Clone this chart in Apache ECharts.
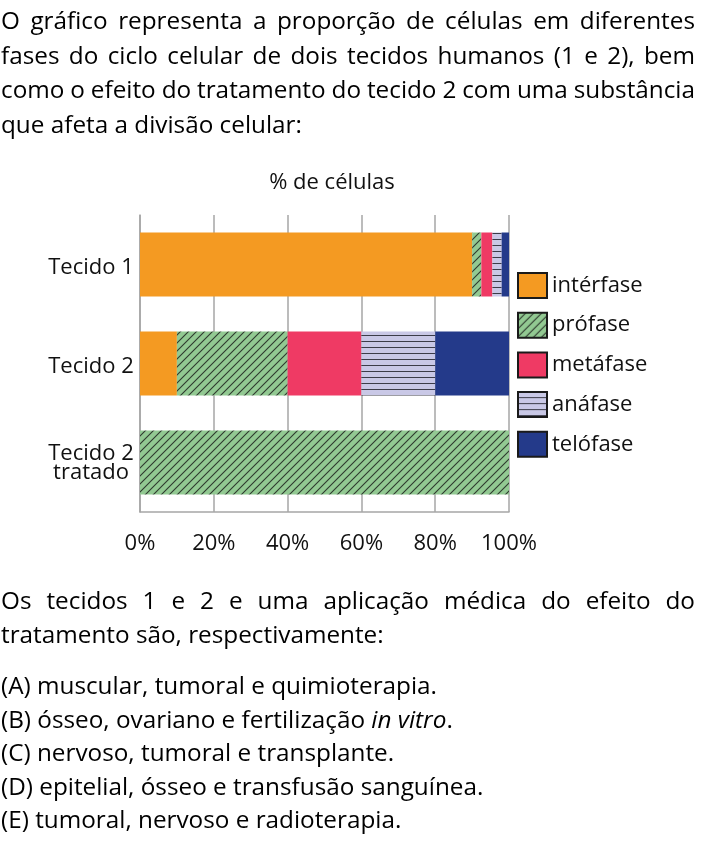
<!DOCTYPE html>
<html lang="pt">
<head>
<meta charset="UTF-8">
<title>ciclo celular</title>
<style>
  html, body { margin: 0; padding: 0; background: #fff; }
  body { width: 708px; height: 844px; position: relative; overflow: hidden;
         font-family: "Open Sans", Lato, sans-serif; color: #000; }
  #chart { position: absolute; left: 0; top: 0; width: 708px; height: 844px; }
  .txt { position: absolute; left: 1px; width: 694px; font-size: 24.3px; z-index: 2; }
  .j { text-align: justify; text-align-last: justify; word-spacing: -2px; }
  #p1 { top: 3px; line-height: 34.7px; }
  #p2 { top: 583px; line-height: 34px; }
  #opts { top: 668px; line-height: 33.5px; }
</style>
</head>
<body>
<div id="chart"></div>
<div class="txt" id="p1">
  <div class="j">O gráfico representa a proporção de células em diferentes</div>
  <div class="j">fases do ciclo celular de dois tecidos humanos (1 e 2), bem</div>
  <div class="j">como o efeito do tratamento do tecido 2 com uma substância</div>
  <div>que afeta a divisão celular:</div>
</div>
<div class="txt" id="p2">
  <div class="j">Os tecidos 1 e 2 e uma aplicação médica do efeito do</div>
  <div>tratamento são, respectivamente:</div>
</div>
<div class="txt" id="opts">
  <div>(A) muscular, tumoral e quimioterapia.</div>
  <div>(B) ósseo, ovariano e fertilização <i>in vitro</i>.</div>
  <div>(C) nervoso, tumoral e transplante.</div>
  <div>(D) epitelial, ósseo e transfusão sanguínea.</div>
  <div>(E) tumoral, nervoso e radioterapia.</div>
</div>
<script src="https://cdn.jsdelivr.net/npm/echarts@6/dist/echarts.min.js"></script>
<script>
  // dados (% de células)
  const categories = ['Tecido 1', 'Tecido 2', 'Tecido 2\ntratado'];
  const phases = ['intérfase', 'prófase', 'metáfase', 'anáfase', 'telófase'];
  const interfase = [90, 10, 0];
  const profase = [2.5, 30, 100];
  const metafase = [3, 20, 0];
  const anafase = [2.5, 20, 0];
  const telofase = [2, 20, 0];
  const xTicks = [0, 20, 40, 60, 80, 100];

  const font = '"Open Sans", Lato, sans-serif';
  const fs = 22;

  // hachurado diagonal (prófase)
  function diagPattern() {
    const s = 8;
    const c = document.createElement('canvas');
    c.width = s; c.height = s;
    const ctx = c.getContext('2d');
    ctx.fillStyle = '#92c992';
    ctx.fillRect(0, 0, s, s);
    ctx.strokeStyle = '#2f3a2f';
    ctx.lineWidth = 1.1;
    ctx.beginPath();
    ctx.moveTo(0, s); ctx.lineTo(s, 0);
    ctx.moveTo(-1, 1); ctx.lineTo(1, -1);
    ctx.moveTo(s - 1, s + 1); ctx.lineTo(s + 1, s - 1);
    ctx.stroke();
    return { image: c, repeat: 'repeat' };
  }

  // linhas horizontais (anáfase)
  function horizPattern() {
    const c = document.createElement('canvas');
    c.width = 4; c.height = 6;
    const ctx = c.getContext('2d');
    ctx.fillStyle = '#c9c8e6';
    ctx.fillRect(0, 0, 4, 6);
    ctx.fillStyle = '#3c3c48';
    ctx.fillRect(0, 5, 4, 1.2);
    return { image: c, repeat: 'repeat' };
  }

  const colors = ['#f49a22', diagPattern(), '#ef3a64', horizPattern(), '#243a8a'];
  const values = [interfase, profase, metafase, anafase, telofase];

  // rótulos do eixo y: uma linha -> {a|}, duas linhas -> {c|}\n{b|}
  function yLabel(v) {
    const parts = v.split('\n');
    if (parts.length === 1) return '{a|' + v + '}';
    return '{c|' + parts[0] + '}\n{b|' + parts[1] + '}';
  }

  const chart = echarts.init(document.getElementById('chart'));
  chart.setOption({
    animation: false,
    textStyle: { fontFamily: font },
    title: {
      text: '% de células',
      left: 327, top: 167, textAlign: 'center',
      textStyle: { fontFamily: font, fontSize: fs, fontWeight: 'normal', color: '#111' }
    },
    legend: {
      orient: 'vertical',
      left: 517, top: 272, padding: 0,
      itemWidth: 29, itemHeight: 25, itemGap: 12.7,
      icon: 'rect',
      selectedMode: false,
      data: phases,
      itemStyle: { borderColor: '#1a1a1a', borderWidth: 2 },
      textStyle: { fontFamily: font, fontSize: fs, color: '#111', lineHeight: 25 }
    },
    grid: { left: 140, top: 215, width: 369, height: 297 },
    xAxis: {
      type: 'value', min: 0, max: 100, interval: 20,
      axisLine: { show: true, lineStyle: { color: '#a6a6a6', width: 1.5 } },
      axisTick: { show: false },
      splitLine: { show: true, lineStyle: { color: '#a6a6a6', width: 1.5 } },
      axisLabel: {
        margin: 21, fontSize: fs, color: '#111', fontFamily: font,
        formatter: v => xTicks.includes(v) ? v + '%' : ''
      }
    },
    yAxis: {
      type: 'category', inverse: true, data: categories,
      axisLine: { show: true, lineStyle: { color: '#a6a6a6', width: 1.5 } },
      axisTick: { show: false },
      axisLabel: {
        margin: 49, align: 'center',
        formatter: yLabel,
        rich: {
          a: { fontSize: fs, lineHeight: 19, padding: [6, 0, 0, 0], color: '#111', fontFamily: font, align: 'center' },
          c: { fontSize: fs, lineHeight: 21, padding: [4, 0, 0, 0], color: '#111', fontFamily: font, align: 'center' },
          b: { fontSize: fs, lineHeight: 21, color: '#111', fontFamily: font, align: 'center' }
        }
      }
    },
    series: phases.map((name, i) => ({
      name,
      type: 'bar',
      stack: 'total',
      barWidth: 64,
      data: values[i],
      itemStyle: { color: colors[i] }
    }))
  });
</script>
</body>
</html>
